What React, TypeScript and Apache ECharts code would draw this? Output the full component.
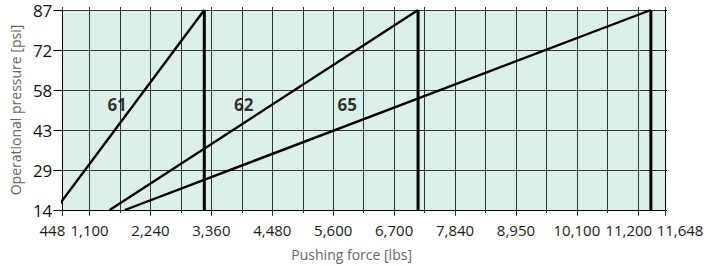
import React, { useEffect, useRef } from 'react';
import * as echarts from 'echarts';

// Axis ticks (x in lbs, y in psi)
const xMin = 620;
const xMax = 11700;
const xTickValues = [620, 1120, 2240, 3360, 4480, 5600, 6720, 7840, 8960, 10080, 11200, 11700];
const xTickLabels = ['448', '1,100', '2,240', '3,360', '4,480', '5,600', '6,700', '7,840', '8,950', '10,100', '11,200', '11,648'];
const xMinorValues = [1680, 2800, 3920, 5040, 6160, 7280, 8400, 9520, 10640];
const yTickValues = [14.5, 29, 43.5, 58, 72.5, 87];
const yTickLabels = ['14', '29', '43', '58', '72', '87'];

// Series: cylinder sizes
const seriesNames = ['61', '62', '65'];
const startForce = [490, 1490, 1770];
const maxForce = [3230, 7160, 11440];
const minPressure = 14.5;
const maxPressure = 87;
const labelForce = [1627, 3953, 5858];
const labelPressure = [52.9, 52.9, 52.9];

export default function App() {
  const ref = useRef<HTMLDivElement>(null);
  useEffect(() => {
    document.body.style.margin = '0';
    const chart = echarts.init(ref.current!, null, { renderer: 'svg' });
    const font = '"Open Sans", "Noto Sans", sans-serif';
    const gridColor = '#333333';
    const labelShift: Record<string, number> = { '448': -10, '11,200': -9, '11,648': 15 };
    const rich: Record<string, any> = {};
    xTickLabels.forEach((t, i) => {
      const s = labelShift[t] || 0;
      rich['r' + i] = {
        fontFamily: font,
        fontSize: 15,
        color: '#1a1a1a',
        padding: s < 0 ? [0, -2 * s, 0, 0] : [0, 0, 0, 2 * s],
      };
    });
    const xFmt = (v: number) => {
      const i = xTickValues.findIndex((t) => Math.abs(t - v) < 1);
      return i < 0 ? '' : `{r${i}|${xTickLabels[i]}}`;
    };
    const yFmt = (v: number) => {
      const i = yTickValues.findIndex((t) => Math.abs(t - v) < 0.01);
      return i < 0 ? '' : yTickLabels[i];
    };

    const series: any[] = [];
    seriesNames.forEach((name, i) => {
      series.push({
        type: 'line',
        name,
        data: [
          [startForce[i], minPressure],
          [maxForce[i], maxPressure],
        ],
        symbol: 'none',
        clip: false,
        lineStyle: { color: '#000', width: 2.4 },
        z: 5,
      });
      series.push({
        type: 'line',
        name: name + ' max',
        data: [
          [maxForce[i], maxPressure],
          [maxForce[i], minPressure],
        ],
        symbol: 'none',
        clip: false,
        lineStyle: { color: '#000', width: 3 },
        z: 5,
      });
    });
    series.push({
      type: 'scatter',
      data: seriesNames.map((n, i) => [labelForce[i], labelPressure[i], n]),
      symbolSize: 0,
      label: {
        show: true,
        position: 'inside',
        formatter: (p: any) => p.data[2],
        fontFamily: font,
        fontSize: 17,
        fontWeight: 'bold',
        color: '#000',
      },
      z: 6,
    });

    chart.setOption({
      animation: false,
      grid: {
        left: 60,
        right: 53,
        top: 10,
        bottom: 52,
        show: true,
        backgroundColor: '#dcefe8',
        borderWidth: 0,
      },
      xAxis: [
        {
          type: 'value',
          position: 'bottom',
          min: xMin,
          max: xMax,
          name: 'Pushing force [lbs]',
          nameLocation: 'middle',
          nameGap: 37,
          nameTextStyle: { color: '#666666', fontSize: 14, fontFamily: font, padding: [0, 24, 0, 0] },
          axisLine: { show: true, lineStyle: { color: '#000', width: 1 } },
          axisTick: { show: true, customValues: xTickValues, length: 6, lineStyle: { color: gridColor } },
          axisLabel: { customValues: xTickValues, formatter: xFmt, rich, margin: 12, fontSize: 15, fontFamily: font, color: '#1a1a1a' },
          splitLine: { show: true, lineStyle: { color: gridColor, width: 1 } },
        },
        {
          type: 'value',
          position: 'bottom',
          min: xMin,
          max: xMax,
          axisLine: { show: false },
          axisTick: { show: true, customValues: xMinorValues, length: 3, lineStyle: { color: gridColor } },
          axisLabel: { show: false },
          splitLine: { show: true, lineStyle: { color: gridColor, width: 1 } },
        },
        {
          type: 'value',
          position: 'top',
          min: xMin,
          max: xMax,
          axisLine: { show: false },
          axisTick: { show: true, customValues: [...xTickValues, ...xMinorValues], length: 3, lineStyle: { color: gridColor } },
          axisLabel: { show: false },
          splitLine: { show: false },
        },
      ],
      yAxis: [
        {
          type: 'value',
          position: 'left',
          min: minPressure,
          max: maxPressure,
          name: 'Operational pressure [psi]',
          nameLocation: 'middle',
          nameGap: 40,
          nameTextStyle: { color: '#666666', fontSize: 14, fontFamily: font },
          axisLine: { show: true, lineStyle: { color: '#000', width: 1 } },
          axisTick: { show: true, customValues: yTickValues, length: 9, lineStyle: { color: '#000' } },
          axisLabel: { customValues: yTickValues, formatter: yFmt, fontFamily: font, fontSize: 17, color: '#111', margin: 10 },
          splitLine: { show: true, lineStyle: { color: gridColor, width: 1 } },
        },
        {
          type: 'value',
          position: 'right',
          min: minPressure,
          max: maxPressure,
          axisLine: { show: true, lineStyle: { color: '#000', width: 1 } },
          axisTick: { show: true, customValues: yTickValues, length: 2, lineStyle: { color: '#000' } },
          axisLabel: { show: false },
          splitLine: { show: false },
        },
      ],
      series,
    });
    return () => chart.dispose();
  }, []);
  return <div ref={ref} style={{ width: 718, height: 266 }} />;
}
